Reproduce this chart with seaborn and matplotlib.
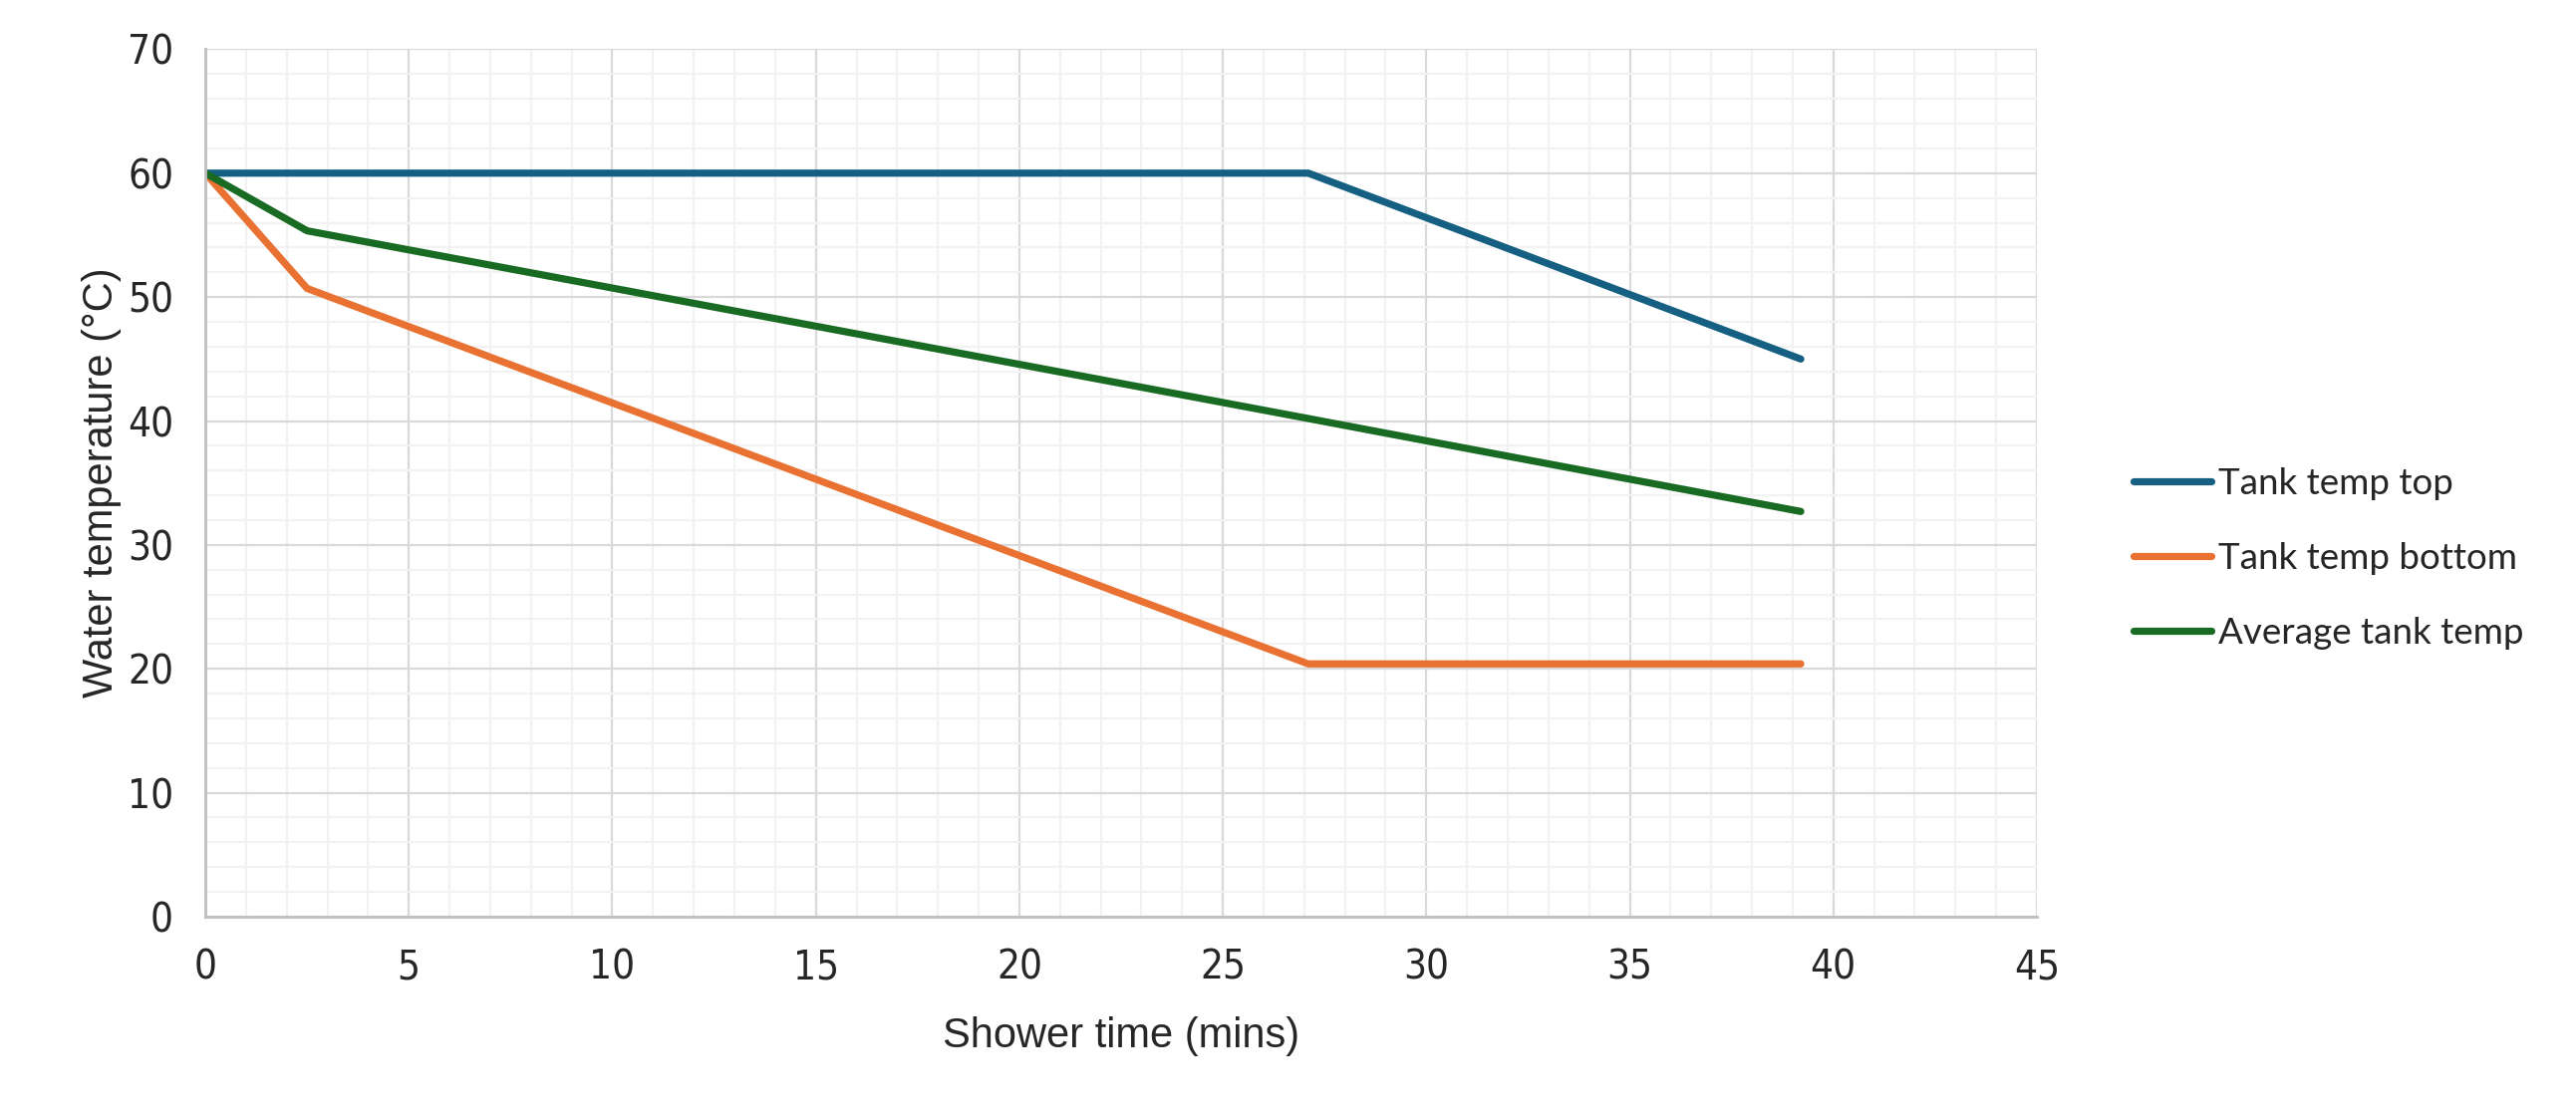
"""
Shower tank temperature chart
"""
import matplotlib
matplotlib.use("Agg")
import matplotlib.pyplot as plt
from matplotlib.ticker import MultipleLocator
import seaborn as sns
import pandas as pd

# データ
time_mins = [0, 2.5, 27.1, 39.2]
tank_top = [60, 60, 60, 45.0]
tank_bottom = [60, 50.7, 20.4, 20.4]
tank_avg = [60, 55.35, 40.2, 32.7]
series_names = ["Tank temp top", "Tank temp bottom", "Average tank temp"]
x_ticks = [0, 5, 10, 15, 20, 25, 30, 35, 40, 45]
y_ticks = [0, 10, 20, 30, 40, 50, 60, 70]

colors = ["#156082", "#E97132", "#196B24"]

sns.set_style("white")
plt.rcParams['font.family'] = ['DejaVu Sans']
plt.rcParams['font.stretch'] = 'condensed'

df = pd.concat([
    pd.DataFrame({"time": time_mins, "temp": vals, "series": name})
    for name, vals in zip(series_names, [tank_top, tank_bottom, tank_avg])
])

fig = plt.figure(figsize=(25.85, 11.23), dpi=100)
ax = fig.add_axes([0.0797, 0.1808, 0.711, 0.7752])

sns.lineplot(
    data=df, x="time", y="temp", hue="series",
    hue_order=series_names, palette=colors,
    linewidth=5.2, ax=ax, legend=True,
    solid_capstyle="round", solid_joinstyle="miter",
)

ax.set_xlim(0, 45)
ax.set_ylim(0, 70)
ax.set_xticks(x_ticks)
ax.set_yticks(y_ticks)
ax.xaxis.set_minor_locator(MultipleLocator(1))
ax.yaxis.set_minor_locator(MultipleLocator(2))

ax.grid(True, which="major", color="#D9D9D9", linewidth=1.6)
ax.grid(True, which="minor", color="#F2F2F2", linewidth=1.6)
ax.set_axisbelow(True)

for side in ["top", "right"]:
    ax.spines[side].set_visible(False)
for side in ["left", "bottom"]:
    ax.spines[side].set_color("#BFBFBF")
    ax.spines[side].set_linewidth(2)

ax.tick_params(axis="both", which="major", labelsize=29, color="#BFBFBF",
               width=2, length=9, pad=14)
ax.tick_params(axis="both", which="minor", length=0)

ax.set_xlabel("Shower time (mins)", fontsize=30, labelpad=20,
              family="Liberation Sans", stretch="normal")
ax.set_ylabel("Water temperature (°C)", fontsize=30,
              family="Liberation Sans", stretch="normal")
# 軸ラベルを目盛りラベルの近くに配置
ax.yaxis.set_label_coords(-0.0455, 0.5)

handles, labels = ax.get_legend_handles_labels()
leg = ax.legend(
    handles, labels, loc="center left", bbox_to_anchor=(1.035, 0.413),
    frameon=False, handlelength=2.1, handletextpad=0.2,
    labelspacing=1.15, prop={"family": "Lato", "size": 26.5},
)
for line in leg.get_lines():
    line.set_linewidth(5.2)
    line.set_solid_capstyle("round")

fig.savefig("out.png", dpi=100)
